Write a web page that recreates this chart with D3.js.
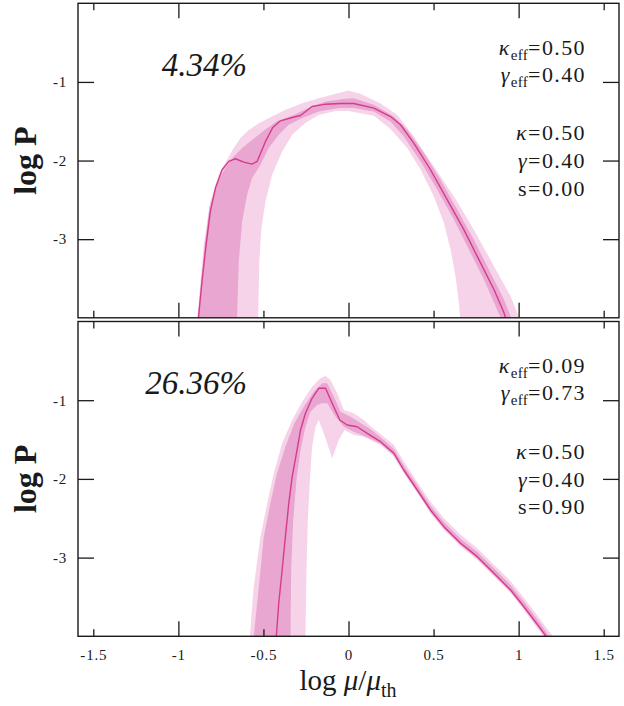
<!DOCTYPE html>
<html>
<head>
<meta charset="utf-8">
<script src="https://cdn.jsdelivr.net/npm/d3@7"></script>
<style>
  html, body { margin: 0; padding: 0; background: #fff; }
  svg { display: block; }
  svg text, svg tspan { font-family: "Liberation Serif", "Times New Roman", Times, serif !important; fill: #1a1a1a; }
</style>
</head>
<body>
<svg id="chart" width="624" height="706" font-family="Liberation Serif"></svg>
<script>
// ---------------- DATA ----------------
const xTicks = [-1.5, -1, -0.5, 0, 0.5, 1, 1.5];
const yTicks = [-1, -2, -3];

const percentLabels = ["4.34%", "26.36%"];
const effParams = [["0.50", "0.40"], ["0.09", "0.73"]];
const trueParams = [["0.50", "0.40", "0.00"], ["0.50", "0.40", "0.90"]];

// Top panel (s = 0.00): [log mu/mu_th, log P]
const topLine = [[-0.885,-4.05],[-0.881,-3.98],[-0.861,-3.535],[-0.837,-3.07],[-0.812,-2.646],[-0.782,-2.35],[-0.743,-2.117],[-0.704,-2.011],[-0.665,-1.977],[-0.616,-2.02],[-0.567,-2.045],[-0.537,-2.011],[-0.488,-1.757],[-0.445,-1.58],[-0.4,-1.495],[-0.331,-1.452],[-0.282,-1.427],[-0.214,-1.313],[-0.135,-1.283],[-0.047,-1.274],[0.031,-1.274],[0.149,-1.333],[0.247,-1.44],[0.306,-1.545],[0.384,-1.778],[0.482,-2.117],[0.58,-2.498],[0.678,-2.879],[0.776,-3.302],[0.855,-3.64],[0.914,-3.937],[0.93,-4.05]];
const topLightUpper = [[-0.89,-4.05],[-0.888,-3.98],[-0.851,-3.07],[-0.812,-2.52],[-0.763,-2.18],[-0.714,-1.99],[-0.675,-1.84],[-0.635,-1.714],[-0.586,-1.61],[-0.527,-1.524],[-0.449,-1.44],[-0.37,-1.355],[-0.272,-1.27],[-0.175,-1.207],[-0.057,-1.14],[0.0,-1.11],[0.07,-1.15],[0.188,-1.274],[0.286,-1.418],[0.384,-1.694],[0.502,-2.075],[0.62,-2.456],[0.737,-2.879],[0.855,-3.345],[0.953,-3.726],[1.0,-3.98],[1.01,-4.05]];
const topLightLower = [[-0.535,-4.05],[-0.531,-3.98],[-0.524,-3.28],[-0.512,-2.857],[-0.488,-2.52],[-0.449,-2.18],[-0.39,-1.884],[-0.331,-1.672],[-0.253,-1.52],[-0.175,-1.42],[-0.076,-1.37],[0.0,-1.37],[0.149,-1.43],[0.247,-1.6],[0.345,-1.84],[0.424,-2.117],[0.502,-2.456],[0.561,-2.794],[0.6,-3.133],[0.629,-3.472],[0.649,-3.81],[0.655,-3.98],[0.656,-4.05]];
const topDarkUpper = [[-0.888,-4.05],[-0.885,-3.98],[-0.845,-3.07],[-0.818,-2.603],[-0.773,-2.29],[-0.724,-2.09],[-0.675,-1.95],[-0.625,-1.84],[-0.567,-1.74],[-0.498,-1.62],[-0.42,-1.5],[-0.331,-1.43],[-0.233,-1.33],[-0.135,-1.25],[-0.018,-1.215],[0.031,-1.207],[0.149,-1.291],[0.267,-1.44],[0.345,-1.609],[0.443,-1.905],[0.541,-2.244],[0.639,-2.625],[0.737,-3.006],[0.835,-3.429],[0.914,-3.768],[0.953,-3.98],[0.96,-4.05]];
const topDarkLower = [[-0.657,-4.05],[-0.655,-3.98],[-0.645,-3.28],[-0.625,-2.773],[-0.596,-2.434],[-0.567,-2.222],[-0.518,-2.053],[-0.469,-1.84],[-0.41,-1.672],[-0.351,-1.545],[-0.272,-1.46],[-0.175,-1.376],[-0.057,-1.333],[0.031,-1.333],[0.149,-1.376],[0.247,-1.503],[0.325,-1.694],[0.424,-2.011],[0.522,-2.371],[0.62,-2.752],[0.718,-3.175],[0.796,-3.514],[0.865,-3.853],[0.89,-3.98],[0.895,-4.05]];

// Bottom panel (s = 0.90)
const botLine = [[-0.426,-4.05],[-0.424,-4.0],[-0.41,-3.58],[-0.39,-3.158],[-0.371,-2.734],[-0.351,-2.31],[-0.331,-1.972],[-0.306,-1.675],[-0.282,-1.379],[-0.253,-1.166],[-0.214,-0.976],[-0.175,-0.849],[-0.135,-0.849],[-0.096,-1.039],[-0.051,-1.252],[-0.008,-1.315],[0.051,-1.337],[0.11,-1.421],[0.188,-1.527],[0.267,-1.675],[0.325,-1.887],[0.404,-2.141],[0.482,-2.395],[0.561,-2.607],[0.659,-2.818],[0.757,-2.988],[0.855,-3.2],[0.953,-3.412],[1.031,-3.624],[1.09,-3.793],[1.149,-3.962],[1.169,-4.05]];
const botLightUpper = [[-0.582,-4.05],[-0.58,-4.0],[-0.557,-3.37],[-0.518,-2.734],[-0.478,-2.31],[-0.439,-1.929],[-0.39,-1.548],[-0.331,-1.252],[-0.272,-1.019],[-0.214,-0.828],[-0.165,-0.722],[-0.135,-0.692],[-0.106,-0.743],[-0.066,-0.912],[-0.027,-1.125],[0.031,-1.166],[0.09,-1.252],[0.129,-1.33],[0.188,-1.43],[0.267,-1.57],[0.325,-1.78],[0.404,-2.04],[0.482,-2.29],[0.561,-2.5],[0.659,-2.71],[0.757,-2.88],[0.855,-3.09],[0.953,-3.3],[1.031,-3.51],[1.09,-3.68],[1.149,-3.85],[1.22,-4.05]];
const botLightLower = [[-0.255,-4.05],[-0.253,-4.0],[-0.247,-3.158],[-0.239,-2.522],[-0.227,-2.014],[-0.214,-1.59],[-0.194,-1.337],[-0.175,-1.252],[-0.145,-1.421],[-0.096,-1.738],[-0.057,-1.506],[-0.024,-1.379],[0.031,-1.442],[0.09,-1.464],[0.129,-1.51],[0.188,-1.57],[0.267,-1.72],[0.325,-1.93],[0.404,-2.18],[0.482,-2.44],[0.561,-2.65],[0.659,-2.86],[0.757,-3.03],[0.855,-3.24],[0.953,-3.45],[1.031,-3.67],[1.09,-3.84],[1.149,-4.01],[1.155,-4.05]];
const botDarkUpper = [[-0.56,-4.05],[-0.557,-4.0],[-0.527,-3.37],[-0.498,-2.734],[-0.459,-2.31],[-0.42,-1.929],[-0.371,-1.59],[-0.318,-1.294],[-0.263,-1.083],[-0.204,-0.892],[-0.155,-0.785],[-0.125,-0.785],[-0.086,-0.956],[-0.047,-1.146],[0.012,-1.21],[0.09,-1.315],[0.129,-1.37],[0.188,-1.47],[0.267,-1.62],[0.325,-1.83],[0.404,-2.08],[0.482,-2.34],[0.561,-2.55],[0.659,-2.76],[0.757,-2.93],[0.855,-3.14],[0.953,-3.35],[1.031,-3.56],[1.09,-3.73],[1.149,-3.9],[1.195,-4.05]];
const botDarkLower = [[-0.343,-4.05],[-0.341,-4.0],[-0.337,-3.158],[-0.325,-2.522],[-0.306,-2.014],[-0.282,-1.633],[-0.253,-1.337],[-0.224,-1.146],[-0.184,-1.061],[-0.155,-1.04],[-0.125,-1.039],[-0.076,-1.21],[-0.027,-1.337],[0.031,-1.4],[0.11,-1.47],[0.129,-1.49],[0.188,-1.55],[0.267,-1.7],[0.325,-1.91],[0.404,-2.16],[0.482,-2.42],[0.561,-2.63],[0.659,-2.84],[0.757,-3.01],[0.855,-3.22],[0.953,-3.43],[1.031,-3.64],[1.09,-3.81],[1.149,-3.98],[1.165,-4.05]];

// ---------------- LAYOUT / STYLE ----------------
const COL_LINE = "#d63b8c";
const COL_DARK = "#e8a6d0";
const COL_LIGHT = "#f6d3e8";
const AXIS_COL = "#1a1a1a";
const SERIF = "Liberation Serif, Times New Roman, serif";

const svg = d3.select("#chart");
const x = d3.scaleLinear().domain([-1.59, 1.59]).range([78, 619]);

const panels = [
  { top: 3.3, bottom: 317.8, line: topLine, lu: topLightUpper, ll: topLightLower, du: topDarkUpper, dl: topDarkLower },
  { top: 321.5, bottom: 636.3, line: botLine, lu: botLightUpper, ll: botLightLower, du: botDarkUpper, dl: botDarkLower }
];

panels.forEach((p, i) => {
  const y = d3.scaleLinear().domain([-4, 0]).range([p.bottom, p.top]);
  const g = svg.append("g").attr("font-family", SERIF);
  const clipId = "clip" + i;
  svg.append("clipPath").attr("id", clipId)
    .append("rect").attr("x", x.range()[0]).attr("y", p.top)
    .attr("width", x.range()[1] - x.range()[0]).attr("height", p.bottom - p.top);

  const line = d3.line().x(d => x(d[0])).y(d => y(d[1]));
  const band = (upper, lower) => line(upper.concat(lower.slice().reverse())) + "Z";

  const plot = g.append("g").attr("clip-path", `url(#${clipId})`);
  plot.append("path").attr("d", band(p.lu, p.ll)).attr("fill", COL_LIGHT);
  plot.append("path").attr("d", band(p.du, p.dl)).attr("fill", COL_DARK);
  plot.append("path").attr("d", line(p.line)).attr("fill", "none")
    .attr("stroke", COL_LINE).attr("stroke-width", 1.4).attr("stroke-linejoin", "round");

  const fmt = d => String(d);
  const isMajor = d => Math.abs(d - Math.round(d)) < 1e-9;

  const bottomAxis = g.append("g").attr("transform", `translate(0,${p.bottom})`)
    .call(d3.axisBottom(x).tickValues(xTicks).tickSize(-15).tickPadding(13)
      .tickFormat(i === 1 ? fmt : () => ""));
  const topAxis = g.append("g").attr("transform", `translate(0,${p.top})`)
    .call(d3.axisTop(x).tickValues(xTicks).tickSize(-15).tickFormat(() => ""));
  bottomAxis.selectAll(".tick line").attr("y2", d => isMajor(d) ? -15 : -7);
  topAxis.selectAll(".tick line").attr("y2", d => isMajor(d) ? 15 : 7);

  const leftAxis = g.append("g").attr("transform", `translate(${x.range()[0]},0)`)
    .call(d3.axisLeft(y).tickValues(yTicks).tickSize(-16).tickPadding(11).tickFormat(fmt));
  const rightAxis = g.append("g").attr("transform", `translate(${x.range()[1]},0)`)
    .call(d3.axisRight(y).tickValues(yTicks).tickSize(-16).tickFormat(() => ""));

  [bottomAxis, topAxis, leftAxis, rightAxis].forEach(a => {
    a.attr("font-family", SERIF).attr("font-size", 15);
    a.select(".domain").remove();
    a.selectAll(".tick line").attr("stroke", AXIS_COL).attr("stroke-width", 1.3);
    a.selectAll(".tick text").attr("font-family", SERIF).attr("font-size", 15)
      .attr("letter-spacing", 0.8).attr("fill", AXIS_COL);
  });

  g.append("rect").attr("x", x.range()[0]).attr("y", p.top)
    .attr("width", x.range()[1] - x.range()[0]).attr("height", p.bottom - p.top)
    .attr("fill", "none").attr("stroke", AXIS_COL).attr("stroke-width", 1.4);

  g.append("text")
    .attr("transform", `translate(36,${(p.top + p.bottom) / 2}) rotate(-90)`)
    .attr("text-anchor", "middle").attr("font-family", SERIF)
    .attr("font-size", 32).attr("font-weight", "bold")
    .text("log P");

  g.append("text").attr("x", 247).attr("y", p.top + 72.7)
    .attr("text-anchor", "end").attr("font-family", SERIF)
    .attr("font-size", 33).attr("font-style", "italic")
    .text(percentLabels[i]);

  const rx = 586;
  const addParam = (yy, greek, greekItalic, sub, val) => {
    const t = g.append("text").attr("x", rx).attr("y", p.top + yy)
      .attr("text-anchor", "end").attr("font-family", SERIF).attr("font-size", 22)
      .attr("letter-spacing", 1.4);
    t.append("tspan").attr("font-style", greekItalic ? "italic" : "normal").text(greek);
    if (sub) {
      t.append("tspan").attr("font-size", 15).attr("letter-spacing", 0.3).attr("dy", 5).text(sub);
      t.append("tspan").attr("dy", -5).text("=" + val);
    } else {
      t.append("tspan").text("=" + val);
    }
  };
  addParam(51.5, "κ", true, "eff", effParams[i][0]);
  addParam(78.5, "γ", true, "eff", effParams[i][1]);
  addParam(137, "κ", true, null, trueParams[i][0]);
  addParam(165, "γ", true, null, trueParams[i][1]);
  addParam(192.5, "s", false, null, trueParams[i][2]);
});

const xt = svg.append("text").attr("x", 348).attr("y", 690)
  .attr("text-anchor", "middle").attr("font-family", SERIF).attr("font-size", 29);
xt.append("tspan").text("log ");
xt.append("tspan").attr("font-style", "italic").text("μ");
xt.append("tspan").text("/");
xt.append("tspan").attr("font-style", "italic").text("μ");
xt.append("tspan").attr("font-size", 20).attr("dy", 7).text("th");
</script>
</body>
</html>
